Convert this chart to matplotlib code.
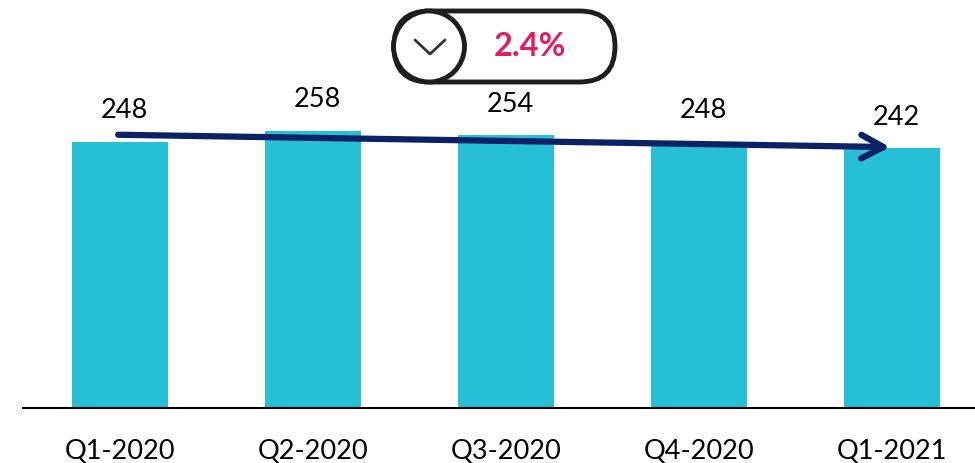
import matplotlib
matplotlib.use("Agg")
import matplotlib.pyplot as plt
from matplotlib.patches import FancyBboxPatch, Circle

quarters = ["Q1-2020", "Q2-2020", "Q3-2020", "Q4-2020", "Q1-2021"]
values = [248, 258, 254, 248, 242]

plt.rcParams['font.family'] = ['Lato', 'DejaVu Sans']

fig = plt.figure(figsize=(9.75, 4.63), dpi=100)
ax = fig.add_axes([23 / 975, 1 - 408 / 463, 1 - 23 / 975, 408 / 463])

x = range(len(values))
ax.bar(x, values, width=0.5, color="#27BFD8")
for i, v in enumerate(values):
    ax.text(i + 0.02, v + 29, str(v), ha="center", va="center", fontsize=19.5, color="black")

ax.set_xlim(-0.503, 4.43)
ax.set_ylim(0, 380)
ax.set_xticks(list(x))
ax.set_xticklabels(quarters, fontsize=19.5)
ax.tick_params(axis="x", length=0, pad=22)
ax.set_yticks([])
for s in ["top", "right", "left"]:
    ax.spines[s].set_visible(False)
ax.spines["bottom"].set_linewidth(1.5)

# trend arrow
ax.annotate("", xy=(len(values) - 1 - 0.01, values[-1] + 1), xytext=(-0.01, values[0] + 6.5),
            arrowprops=dict(arrowstyle="->,head_length=1.6,head_width=0.85", lw=4.5,
                            color="#0B2366", capstyle="round", joinstyle="round",
                            shrinkA=0, shrinkB=0))

# change badge
change = (values[0] - values[-1]) / values[0] * 100
ov = fig.add_axes([0, 0, 1, 1])
ov.set_xlim(0, 975)
ov.set_ylim(463, 0)
ov.axis("off")
ov.patch.set_alpha(0)
ov.add_patch(FancyBboxPatch((394, 11), 221, 71, boxstyle="round,pad=0,rounding_size=35.5",
                            fc="white", ec="#1E1E1E", lw=3.5))
ov.add_patch(Circle((429, 46.5), 35.5, fc="white", ec="#1E1E1E", lw=3.5))
ov.plot([415, 430, 445], [40, 54, 40], color="#333333", lw=2, solid_capstyle="round")
ov.text(530, 47, f"{change:.1f}%", ha="center", va="center", fontsize=23.5,
        fontweight="bold", color="#E01F63")

fig.savefig("out.png", dpi=100)
